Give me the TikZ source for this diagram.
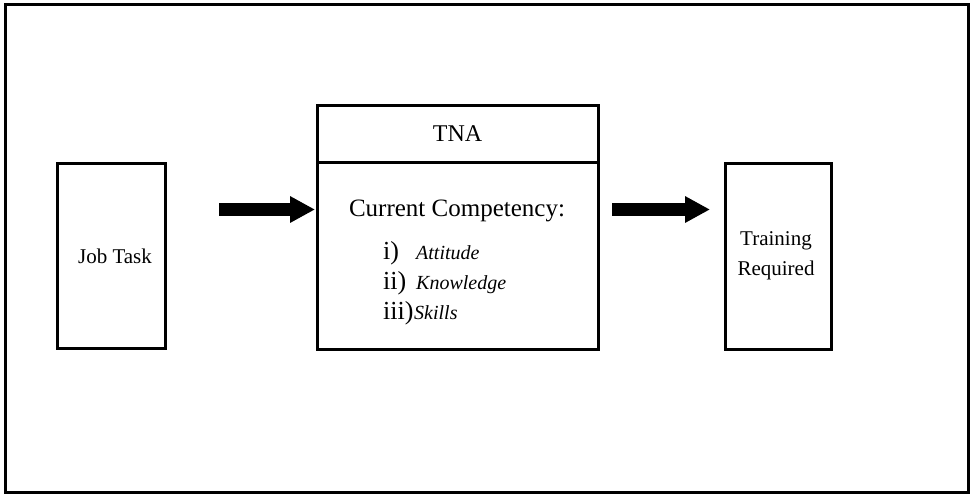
\documentclass[tikz,border=0pt]{standalone}
\usepackage{fontspec}
\setmainfont{Liberation Serif}
\usetikzlibrary{arrows.meta}
\begin{document}
\begin{tikzpicture}[x=1pt,y=-1pt,
  thick line/.style={line width=3pt},
  stagebox/.style={draw,thick line,inner sep=0pt,align=center,
    font=\fontsize{21}{30}\selectfont},
  bigarrow/.style={line width=13.5pt,
    -{Triangle[length=25pt,width=25pt]}},
  numeral/.style={anchor=base west,inner sep=0pt,font=\fontsize{26}{30}\selectfont},
  item/.style={anchor=base west,inner sep=0pt,font=\fontsize{20}{24}\selectfont\itshape}
]
\useasboundingbox (0,0) rectangle (970,496);
% outer frame
\draw[thick line] (5.5,4.5) rectangle (968,492.5);

% stage boxes
\node[stagebox,minimum width=108pt,minimum height=185pt] (job) at (111,255.5) {};
\node[inner sep=0pt,font=\fontsize{21}{30}\selectfont] (jobtext) at (115,256) {Job Task};
\node[stagebox,minimum width=281pt,minimum height=57.5pt,
  font=\fontsize{24}{30}\selectfont] (tnahead) at (457.5,133.75) {TNA};
\node[stagebox,minimum width=281pt,minimum height=187pt] (tnabody) at (457.5,256) {};
\node[stagebox,minimum width=106pt,minimum height=185.5pt] (train) at (778,256.25) {};
\node[inner sep=0pt,align=center,font=\fontsize{21}{30}\selectfont] (traintext) at (776,256) {Training\\Required};

% contents of the TNA box
\node[anchor=base,inner sep=0pt,font=\fontsize{25}{30}\selectfont] (cc) at (457,216) {Current Competency:};
\node[numeral] (n1) at (383,259) {i)};
\node[item] (t1) at (416,259) {Attitude};
\node[numeral] (n2) at (383,289) {ii)};
\node[item] (t2) at (416,289) {Knowledge};
\node[numeral] (n3) at (383,319) {iii)};
\node[item] (t3) at (414,319) {Skills};

% block arrows
\coordinate (a1s) at (219,209.5);
\coordinate (a1e) at (315,209.5);
\coordinate (a2s) at (612,209.5);
\coordinate (a2e) at (710,209.5);
\draw[bigarrow] (a1s) -- (a1e);
\draw[bigarrow] (a2s) -- (a2e);
\end{tikzpicture}
\end{document}
